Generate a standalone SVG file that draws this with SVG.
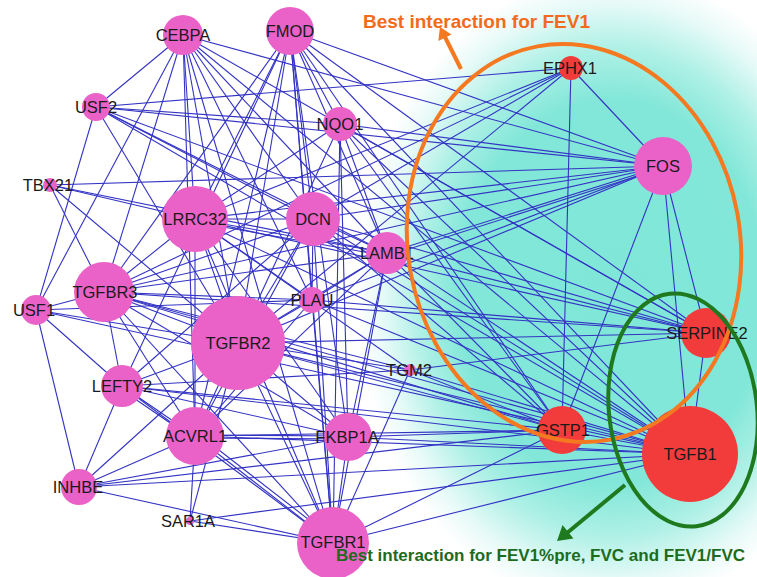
<svg xmlns="http://www.w3.org/2000/svg" width="757" height="577" viewBox="0 0 757 577">
<defs>
<radialGradient id="bg" cx="0" cy="0" r="1" gradientUnits="userSpaceOnUse" gradientTransform="translate(612 292) scale(255 320)">
<stop offset="0" stop-color="#80e7d8"/>
<stop offset="0.6" stop-color="#82e7d8"/>
<stop offset="0.76" stop-color="#aef0e6"/>
<stop offset="0.9" stop-color="#e6faf7"/>
<stop offset="1" stop-color="#ffffff"/>
</radialGradient>
<style>
.e{stroke:#3333c4;stroke-width:1.1;fill:none}
.p{fill:#ea62c8}
.r{fill:#f23c3c}
.t{font-family:"Liberation Sans",Arial,sans-serif;font-size:16.5px;fill:#1a1a1a;text-anchor:middle}
.ann{font-family:"Liberation Sans",Arial,sans-serif;font-weight:bold}
</style>
</defs>
<rect x="0" y="0" width="757" height="577" fill="#ffffff"/>
<rect x="0" y="0" width="757" height="577" fill="url(#bg)"/>
<g id="edges">
<line class="e" x1="183" y1="35" x2="96" y2="107"/>
<line class="e" x1="183" y1="35" x2="104" y2="292"/>
<line class="e" x1="183" y1="35" x2="36" y2="310"/>
<line class="e" x1="183" y1="35" x2="195" y2="219"/>
<line class="e" x1="183" y1="35" x2="238" y2="343"/>
<line class="e" x1="183" y1="35" x2="195" y2="436"/>
<line class="e" x1="183" y1="35" x2="333" y2="543"/>
<line class="e" x1="183" y1="35" x2="313" y2="219"/>
<line class="e" x1="183" y1="35" x2="387" y2="253"/>
<line class="e" x1="183" y1="35" x2="663" y2="166"/>
<line class="e" x1="183" y1="35" x2="706" y2="333"/>
<line class="e" x1="183" y1="35" x2="690" y2="454"/>
<line class="e" x1="183" y1="35" x2="312" y2="300"/>
<line class="e" x1="290" y1="31" x2="195" y2="219"/>
<line class="e" x1="290" y1="31" x2="104" y2="292"/>
<line class="e" x1="290" y1="31" x2="238" y2="343"/>
<line class="e" x1="290" y1="31" x2="195" y2="436"/>
<line class="e" x1="290" y1="31" x2="313" y2="219"/>
<line class="e" x1="290" y1="31" x2="340" y2="124"/>
<line class="e" x1="290" y1="31" x2="387" y2="253"/>
<line class="e" x1="290" y1="31" x2="690" y2="454"/>
<line class="e" x1="290" y1="31" x2="562" y2="430"/>
<line class="e" x1="290" y1="31" x2="706" y2="333"/>
<line class="e" x1="290" y1="31" x2="348" y2="437"/>
<line class="e" x1="290" y1="31" x2="333" y2="543"/>
<line class="e" x1="290" y1="31" x2="312" y2="300"/>
<line class="e" x1="290" y1="31" x2="122" y2="386"/>
<line class="e" x1="96" y1="107" x2="571" y2="68"/>
<line class="e" x1="96" y1="107" x2="340" y2="124"/>
<line class="e" x1="96" y1="107" x2="663" y2="166"/>
<line class="e" x1="96" y1="107" x2="313" y2="219"/>
<line class="e" x1="96" y1="107" x2="690" y2="454"/>
<line class="e" x1="96" y1="107" x2="36" y2="310"/>
<line class="e" x1="96" y1="107" x2="238" y2="343"/>
<line class="e" x1="96" y1="107" x2="387" y2="253"/>
<line class="e" x1="50" y1="185" x2="663" y2="166"/>
<line class="e" x1="50" y1="185" x2="195" y2="219"/>
<line class="e" x1="50" y1="185" x2="104" y2="292"/>
<line class="e" x1="50" y1="185" x2="238" y2="343"/>
<line class="e" x1="50" y1="185" x2="387" y2="253"/>
<line class="e" x1="36" y1="310" x2="104" y2="292"/>
<line class="e" x1="36" y1="310" x2="238" y2="343"/>
<line class="e" x1="36" y1="310" x2="122" y2="386"/>
<line class="e" x1="36" y1="310" x2="79" y2="487"/>
<line class="e" x1="36" y1="310" x2="690" y2="454"/>
<line class="e" x1="571" y1="68" x2="195" y2="219"/>
<line class="e" x1="571" y1="68" x2="313" y2="219"/>
<line class="e" x1="571" y1="68" x2="104" y2="292"/>
<line class="e" x1="571" y1="68" x2="562" y2="430"/>
<line class="e" x1="571" y1="68" x2="663" y2="166"/>
<line class="e" x1="571" y1="68" x2="238" y2="343"/>
<line class="e" x1="663" y1="166" x2="195" y2="219"/>
<line class="e" x1="663" y1="166" x2="313" y2="219"/>
<line class="e" x1="663" y1="166" x2="387" y2="253"/>
<line class="e" x1="663" y1="168" x2="387" y2="256"/>
<line class="e" x1="663" y1="166" x2="104" y2="292"/>
<line class="e" x1="663" y1="166" x2="290" y2="31"/>
<line class="e" x1="663" y1="166" x2="706" y2="333"/>
<line class="e" x1="663" y1="166" x2="690" y2="454"/>
<line class="e" x1="663" y1="166" x2="562" y2="430"/>
<line class="e" x1="663" y1="166" x2="238" y2="343"/>
<line class="e" x1="663" y1="166" x2="340" y2="124"/>
<line class="e" x1="663" y1="166" x2="312" y2="300"/>
<line class="e" x1="706" y1="333" x2="690" y2="454"/>
<line class="e" x1="706" y1="333" x2="387" y2="253"/>
<line class="e" x1="706" y1="333" x2="195" y2="219"/>
<line class="e" x1="706" y1="333" x2="313" y2="219"/>
<line class="e" x1="706" y1="333" x2="238" y2="343"/>
<line class="e" x1="706" y1="333" x2="312" y2="300"/>
<line class="e" x1="706" y1="333" x2="104" y2="292"/>
<line class="e" x1="706" y1="333" x2="340" y2="124"/>
<line class="e" x1="706" y1="333" x2="96" y2="107"/>
<line class="e" x1="706" y1="333" x2="410" y2="370"/>
<line class="e" x1="690" y1="454" x2="238" y2="343"/>
<line class="e" x1="690" y1="454" x2="333" y2="543"/>
<line class="e" x1="690" y1="454" x2="195" y2="436"/>
<line class="e" x1="690" y1="454" x2="348" y2="437"/>
<line class="e" x1="690" y1="454" x2="122" y2="386"/>
<line class="e" x1="690" y1="454" x2="79" y2="487"/>
<line class="e" x1="690" y1="454" x2="190" y2="521"/>
<line class="e" x1="690" y1="454" x2="562" y2="430"/>
<line class="e" x1="690" y1="454" x2="387" y2="253"/>
<line class="e" x1="690" y1="454" x2="313" y2="219"/>
<line class="e" x1="690" y1="454" x2="195" y2="219"/>
<line class="e" x1="690" y1="454" x2="104" y2="292"/>
<line class="e" x1="690" y1="454" x2="312" y2="300"/>
<line class="e" x1="690" y1="454" x2="410" y2="370"/>
<line class="e" x1="690" y1="454" x2="340" y2="124"/>
<line class="e" x1="562" y1="430" x2="238" y2="343"/>
<line class="e" x1="562" y1="430" x2="195" y2="436"/>
<line class="e" x1="562" y1="430" x2="348" y2="437"/>
<line class="e" x1="562" y1="430" x2="333" y2="543"/>
<line class="e" x1="562" y1="430" x2="122" y2="386"/>
<line class="e" x1="562" y1="430" x2="104" y2="292"/>
<line class="e" x1="562" y1="430" x2="340" y2="124"/>
<line class="e" x1="562" y1="430" x2="313" y2="219"/>
<line class="e" x1="562" y1="430" x2="387" y2="253"/>
<line class="e" x1="562" y1="430" x2="410" y2="370"/>
<line class="e" x1="562" y1="430" x2="79" y2="487"/>
<line class="e" x1="340" y1="124" x2="195" y2="219"/>
<line class="e" x1="340" y1="124" x2="238" y2="343"/>
<line class="e" x1="340" y1="124" x2="387" y2="253"/>
<line class="e" x1="340" y1="124" x2="333" y2="543"/>
<line class="e" x1="340" y1="124" x2="348" y2="437"/>
<line class="e" x1="195" y1="219" x2="313" y2="219"/>
<line class="e" x1="195" y1="219" x2="387" y2="253"/>
<line class="e" x1="195" y1="222" x2="387" y2="256"/>
<line class="e" x1="195" y1="219" x2="238" y2="343"/>
<line class="e" x1="195" y1="219" x2="104" y2="292"/>
<line class="e" x1="195" y1="219" x2="195" y2="436"/>
<line class="e" x1="195" y1="219" x2="333" y2="543"/>
<line class="e" x1="195" y1="219" x2="348" y2="437"/>
<line class="e" x1="195" y1="219" x2="312" y2="300"/>
<line class="e" x1="195" y1="219" x2="410" y2="370"/>
<line class="e" x1="313" y1="219" x2="238" y2="343"/>
<line class="e" x1="313" y1="219" x2="387" y2="253"/>
<line class="e" x1="313" y1="219" x2="312" y2="300"/>
<line class="e" x1="313" y1="219" x2="104" y2="292"/>
<line class="e" x1="313" y1="219" x2="195" y2="436"/>
<line class="e" x1="313" y1="219" x2="333" y2="543"/>
<line class="e" x1="313" y1="219" x2="122" y2="386"/>
<line class="e" x1="387" y1="253" x2="312" y2="300"/>
<line class="e" x1="387" y1="253" x2="238" y2="343"/>
<line class="e" x1="387" y1="253" x2="104" y2="292"/>
<line class="e" x1="387" y1="253" x2="333" y2="543"/>
<line class="e" x1="387" y1="253" x2="348" y2="437"/>
<line class="e" x1="387" y1="253" x2="195" y2="436"/>
<line class="e" x1="312" y1="300" x2="238" y2="343"/>
<line class="e" x1="312" y1="300" x2="104" y2="292"/>
<line class="e" x1="312" y1="300" x2="333" y2="543"/>
<line class="e" x1="312" y1="300" x2="195" y2="436"/>
<line class="e" x1="312" y1="300" x2="36" y2="310"/>
<line class="e" x1="104" y1="292" x2="238" y2="343"/>
<line class="e" x1="104" y1="292" x2="122" y2="386"/>
<line class="e" x1="104" y1="292" x2="195" y2="436"/>
<line class="e" x1="104" y1="292" x2="333" y2="543"/>
<line class="e" x1="104" y1="292" x2="348" y2="437"/>
<line class="e" x1="104" y1="292" x2="410" y2="370"/>
<line class="e" x1="238" y1="343" x2="122" y2="386"/>
<line class="e" x1="238" y1="343" x2="195" y2="436"/>
<line class="e" x1="238" y1="343" x2="348" y2="437"/>
<line class="e" x1="238" y1="343" x2="333" y2="543"/>
<line class="e" x1="238" y1="343" x2="79" y2="487"/>
<line class="e" x1="238" y1="343" x2="190" y2="521"/>
<line class="e" x1="238" y1="343" x2="410" y2="370"/>
<line class="e" x1="122" y1="386" x2="195" y2="436"/>
<line class="e" x1="122" y1="390" x2="195" y2="440"/>
<line class="e" x1="122" y1="386" x2="79" y2="487"/>
<line class="e" x1="122" y1="386" x2="333" y2="543"/>
<line class="e" x1="122" y1="386" x2="348" y2="437"/>
<line class="e" x1="122" y1="386" x2="410" y2="370"/>
<line class="e" x1="195" y1="435" x2="348" y2="436"/>
<line class="e" x1="195" y1="438" x2="348" y2="439"/>
<line class="e" x1="195" y1="436" x2="333" y2="543"/>
<line class="e" x1="197" y1="433" x2="335" y2="540"/>
<line class="e" x1="195" y1="436" x2="79" y2="487"/>
<line class="e" x1="195" y1="436" x2="190" y2="521"/>
<line class="e" x1="348" y1="437" x2="333" y2="543"/>
<line class="e" x1="348" y1="437" x2="79" y2="487"/>
<line class="e" x1="79" y1="487" x2="333" y2="543"/>
<line class="e" x1="190" y1="521" x2="333" y2="543"/>
<line class="e" x1="410" y1="370" x2="333" y2="543"/>
</g>
<g id="node-CEBPA"><circle class="p" cx="183" cy="35" r="20"/><text class="t" x="183" y="41">CEBPA</text></g>
<g id="node-FMOD"><circle class="p" cx="290" cy="31" r="24"/><text class="t" x="290" y="37">FMOD</text></g>
<g id="node-USF2"><circle class="p" cx="96" cy="107" r="14"/><text class="t" x="96" y="113">USF2</text></g>
<g id="node-NQO1"><circle class="p" cx="340" cy="124" r="17"/><text class="t" x="340" y="130">NQO1</text></g>
<g id="node-EPHX1"><circle class="r" cx="571" cy="68" r="12"/><text class="t" x="570" y="74">EPHX1</text></g>
<g id="node-FOS"><circle class="p" cx="663" cy="166" r="29"/><text class="t" x="663" y="172">FOS</text></g>
<g id="node-TBX21"><circle class="p" cx="50" cy="185" r="7"/><text class="t" x="48" y="191">TBX21</text></g>
<g id="node-LRRC32"><circle class="p" cx="195" cy="219" r="33"/><text class="t" x="195" y="225">LRRC32</text></g>
<g id="node-DCN"><circle class="p" cx="313" cy="219" r="27"/><text class="t" x="313" y="225">DCN</text></g>
<g id="node-LAMB1"><circle class="p" cx="387" cy="253" r="21"/><text class="t" x="387" y="259">LAMB1</text></g>
<g id="node-TGFBR3"><circle class="p" cx="104" cy="292" r="30"/><text class="t" x="105" y="298">TGFBR3</text></g>
<g id="node-USF1"><circle class="p" cx="36" cy="310" r="15"/><text class="t" x="34" y="316">USF1</text></g>
<g id="node-PLAU"><circle class="p" cx="312" cy="300" r="13"/><text class="t" x="312" y="306">PLAU</text></g>
<g id="node-TGFBR2"><circle class="p" cx="238" cy="343" r="47"/><text class="t" x="238" y="349">TGFBR2</text></g>
<g id="node-TGM2"><circle class="p" cx="410" cy="370" r="6"/><text class="t" x="409" y="376">TGM2</text></g>
<g id="node-SERPINE2"><circle class="r" cx="706" cy="333" r="25"/><text class="t" x="707" y="339">SERPINE2</text></g>
<g id="node-LEFTY2"><circle class="p" cx="122" cy="386" r="21"/><text class="t" x="122" y="392">LEFTY2</text></g>
<g id="node-ACVRL1"><circle class="p" cx="195" cy="436" r="29"/><text class="t" x="195" y="442">ACVRL1</text></g>
<g id="node-FKBP1A"><circle class="p" cx="348" cy="437" r="24"/><text class="t" x="347" y="443">FKBP1A</text></g>
<g id="node-GSTP1"><circle class="r" cx="562" cy="430" r="24"/><text class="t" x="563" y="436">GSTP1</text></g>
<g id="node-TGFB1"><circle class="r" cx="690" cy="454" r="48"/><text class="t" x="690" y="460">TGFB1</text></g>
<g id="node-INHBE"><circle class="p" cx="79" cy="487" r="18"/><text class="t" x="78" y="493">INHBE</text></g>
<g id="node-SAR1A"><circle class="p" cx="190" cy="521" r="4"/><text class="t" x="188" y="527">SAR1A</text></g>
<g id="node-TGFBR1"><circle class="p" cx="333" cy="543" r="36"/><text class="t" x="333" y="548">TGFBR1</text></g>
<g id="annotation-fev1">
<ellipse cx="574" cy="243" rx="166" ry="200" transform="rotate(-10.5 574 243)" fill="none" stroke="#f47920" stroke-width="4"/>
<line x1="461" y1="69" x2="445" y2="37" stroke="#f47920" stroke-width="4"/>
<polygon points="440,27 451.5,34.5 438.3,41.1" fill="#f47920"/>
<text class="ann" x="363" y="28" font-size="19" fill="#f26b1d">Best interaction for FEV1</text>
</g>
<g id="annotation-fvc">
<ellipse cx="683" cy="410" rx="74" ry="117" transform="rotate(-6.6 683 410)" fill="none" stroke="#1f7a1f" stroke-width="4"/>
<line x1="625" y1="485" x2="567" y2="533" stroke="#1f7a1f" stroke-width="4"/>
<polygon points="557,541 573.5,538.5 562.5,525" fill="#1f7a1f"/>
<text class="ann" x="336" y="561" font-size="17" fill="#1d6b1d">Best interaction for FEV1%pre, FVC and FEV1/FVC</text>
</g>
</svg>
